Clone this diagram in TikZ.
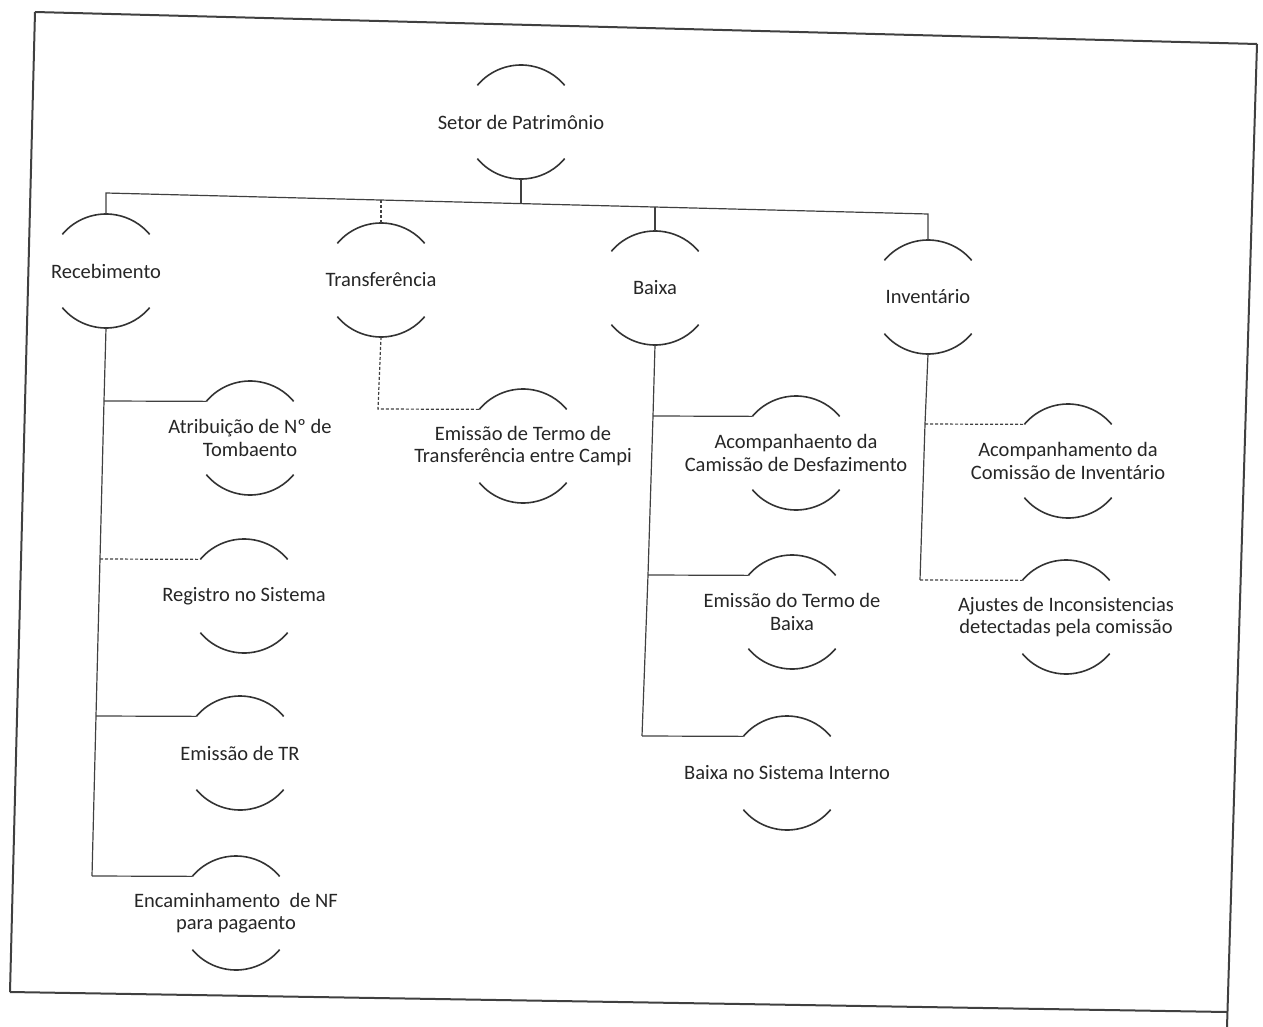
\documentclass[tikz,border=0pt]{standalone}
\usepackage{fontspec}
\setmainfont{Carlito}
\begin{document}
\begin{tikzpicture}[x=1pt,y=1pt,
  circ/.style={circle,minimum size=114,inner sep=0,outer sep=0,draw=none},
  lbl/.style={align=center,font=\fontsize{20.5}{22.5}\selectfont,text=black!85,inner sep=1},
  arcln/.style={line width=1.6pt,black!80},
  conn/.style={line width=1.2pt,black!75},
  dconn/.style={conn,dash pattern=on 3pt off 2pt},
  frame/.style={line width=2pt,black!75}]
\useasboundingbox (0,0) rectangle (1263,-1027);
% frame
\draw[frame] (35,-12) -- (1257,-44);
\draw[frame] (35,-12) -- (10,-992);
\draw[frame] (10,-992) -- (1227,-1012);
\draw[frame] (1257,-44) -- (1227,-1027);
% node circles (invisible) and labels
\node[circ] (S) at (521,-122) {}; \node[lbl] (St) at (S) {Setor de Patrimônio};
\node[circ] (R) at (106,-271) {}; \node[lbl] (Rt) at (R) {Recebimento};
\node[circ] (T) at (381,-280) {}; \node[lbl] (Tt) at (T) {Transferência};
\node[circ] (B) at (655,-288) {}; \node[lbl] (Bt) at (B) {Baixa};
\node[circ] (I) at (928,-297) {}; \node[lbl] (It) at (I) {Inventário};
\node[circ] (A) at (250,-438) {}; \node[lbl] (At) at (A) {Atribuição de Nº de\\Tombaento};
\node[circ] (Rg) at (244,-596) {}; \node[lbl] (Rgt) at (Rg) {Registro no Sistema};
\node[circ] (E) at (240,-753) {}; \node[lbl] (Et) at (E) {Emissão de TR};
\node[circ] (En) at (236,-913) {}; \node[lbl] (Ent) at (En) {Encaminhamento\ \ de NF\\para pagaento};
\node[circ] (X) at (523,-446) {}; \node[lbl] (Xt) at (X) {Emissão de Termo de\\Transferência entre Campi};
\node[circ] (D) at (796,-453) {}; \node[lbl] (Dt) at (D) {Acompanhaento da\\Camissão de Desfazimento};
\node[circ] (F) at (792,-612) {}; \node[lbl] (Ft) at (F) {Emissão do Termo de\\Baixa};
\node[circ] (G) at (787,-773) {}; \node[lbl] (Gt) at (G) {Baixa no Sistema Interno};
\node[circ] (K) at (1068,-461) {}; \node[lbl] (Kt) at (K) {Acompanhamento da\\Comissão de Inventário};
\node[circ] (L) at (1066,-617) {}; \node[lbl] (Lt) at (L) {Ajustes de Inconsistencias\\detectadas pela comissão};
% arcs
\foreach \n in {S,R,T,B,I,A,Rg,E,En,X,D,F,G,K,L}{
  \draw[arcln] (\n.140) arc (140:40:57);
  \draw[arcln] (\n.220) arc (220:320:57);
}
% top level connectors
\coordinate (bS) at (521,-203.6);
\coordinate (bR) at (106,-193);
\coordinate (bT) at (381,-200);
\coordinate (bB) at (655,-207);
\coordinate (bI) at (928,-214);
\draw[conn] (S.south) -- (bS);
\draw[conn] (R.north) -- (bR) -- (bI) -- (I.north);
\draw[dconn] (bT) -- (T.north);
\draw[conn] (bB) -- (B.north);
% Recebimento
\coordinate (r1) at (104,-401);
\coordinate (r2) at (100,-559);
\coordinate (r3) at (96,-716);
\coordinate (r4) at (92,-876);
\draw[conn] (R.south) -- (r1) -- (r2) -- (r3) -- (r4);
\draw[conn] (r1) -- (A.140);
\draw[dconn] (r2) -- (Rg.140);
\draw[conn] (r3) -- (E.140);
\draw[conn] (r4) -- (En.140);
% Transferencia
\coordinate (t1) at (378,-409);
\draw[dconn] (T.south) -- (t1) -- (X.140);
% Baixa
\coordinate (b1) at (653,-416);
\coordinate (b2) at (648,-575);
\coordinate (b3) at (642,-736);
\draw[conn] (B.south) -- (b1) -- (b2) -- (b3);
\draw[conn] (b1) -- (D.140);
\draw[conn] (b2) -- (F.140);
\draw[conn] (b3) -- (G.140);
% Inventario
\coordinate (i1) at (925,-424);
\coordinate (i2) at (920,-580);
\draw[conn] (I.south) -- (i1) -- (i2);
\draw[dconn] (i1) -- (K.140);
\draw[dconn] (i2) -- (L.140);
\end{tikzpicture}
\end{document}
